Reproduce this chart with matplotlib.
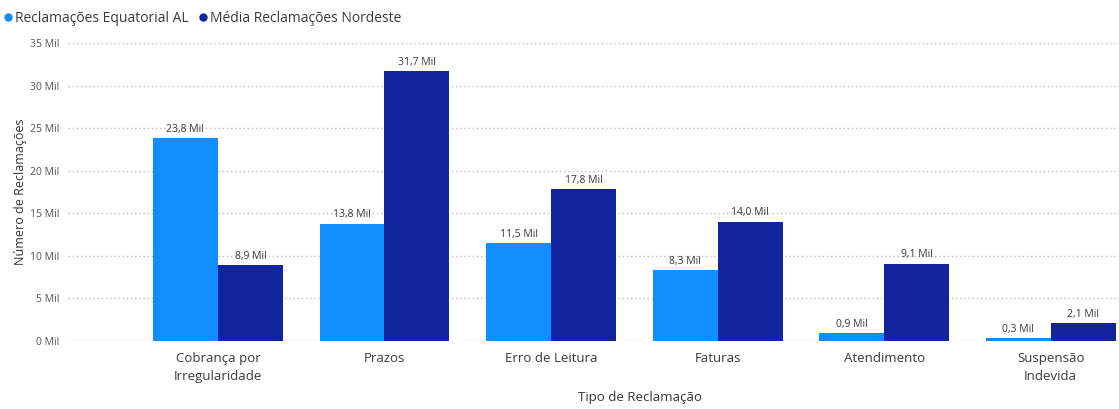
import matplotlib
matplotlib.use("Agg")
import matplotlib.pyplot as plt
import numpy as np
from matplotlib.lines import Line2D

categories = ["Cobrança por\nIrregularidade", "Prazos", "Erro de Leitura", "Faturas",
              "Atendimento", "Suspensão\nIndevida"]
equatorial = [23.8, 13.8, 11.5, 8.3, 0.9, 0.3]
nordeste = [8.9, 31.7, 17.8, 14.0, 9.1, 2.1]
yticks = [0, 5, 10, 15, 20, 25, 30, 35]
series_names = ["Reclamações Equatorial AL", "Média Reclamações Nordeste"]

c1 = "#118DFF"
c2 = "#12239E"
txt = "#3a3a3a"

plt.rcParams['font.family'] = ['Open Sans', 'DejaVu Sans']

fig = plt.figure(figsize=(11.19, 4.09), dpi=100)
ax = fig.add_axes([68/1119, 1-341/409, 1-68/1119, (341-43)/409])

x = np.arange(len(categories))
w = 0.39
ax.bar(x - w/2, equatorial, w, color=c1, zorder=3)
ax.bar(x + w/2, nordeste, w, color=c2, zorder=3)

def fmt(v):
    return f"{v:.1f}".replace(".", ",") + " Mil"

for xi, v in zip(x - w/2, equatorial):
    ax.text(xi, v + 0.4, fmt(v), ha="center", va="bottom", fontsize=7.5, color=txt)
for xi, v in zip(x + w/2, nordeste):
    ax.text(xi, v + 0.4, fmt(v), ha="center", va="bottom", fontsize=7.5, color=txt)

ax.set_xlim(-0.9, 5.41)
ax.set_ylim(0, 35)
ax.set_yticks(yticks)
ax.set_yticklabels([f"{t} Mil" for t in yticks], fontsize=7.5, color="#555555")
ax.set_xticks(x)
ax.set_xticklabels(categories, fontsize=9.5, color=txt, linespacing=1.5)
ax.tick_params(axis="both", length=0, pad=6)
ax.tick_params(axis="x", pad=8)
ax.yaxis.grid(True, linestyle=(0, (1, 2)), color="#BBBBBB", linewidth=1, zorder=0)
for s in ax.spines.values():
    s.set_visible(False)

ax.set_ylabel("Número de Reclamações", fontsize=9, color="#333333")
ax.yaxis.set_label_coords(-0.039, 0.5)
fig.text(640/1119, 1-398/409, "Tipo de Reclamação", ha="center", va="center",
         fontsize=9.5, color="#333333")

handles = [Line2D([], [], marker="o", linestyle="", color=c1, markersize=5),
           Line2D([], [], marker="o", linestyle="", color=c2, markersize=5)]
fig.legend(handles, series_names, loc="center left", bbox_to_anchor=(0.0, 1-18/409),
           ncol=2, frameon=False, fontsize=10, handletextpad=0.1, columnspacing=0.6,
           handlelength=0.8, borderaxespad=0, borderpad=0.2,
           labelcolor="#3a3a3a")

fig.savefig("out.png", dpi=100)
